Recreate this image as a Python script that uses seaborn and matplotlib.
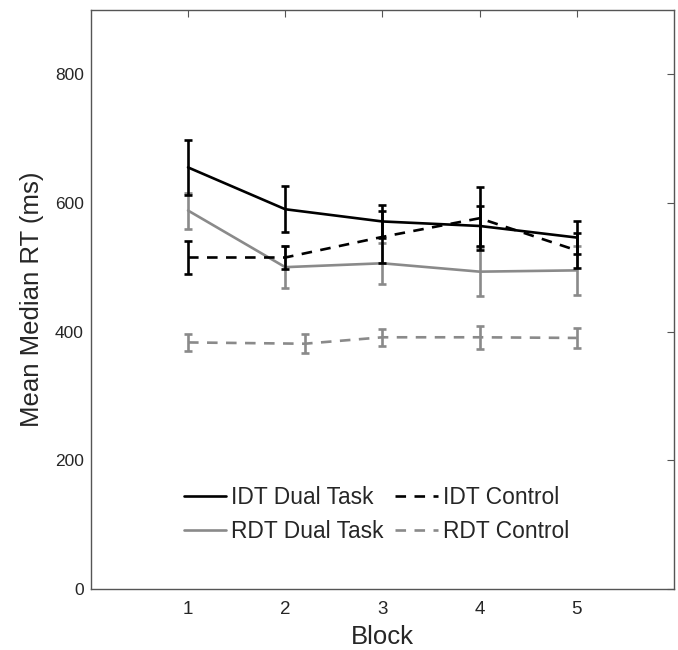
import matplotlib
matplotlib.use("Agg")
import matplotlib.pyplot as plt
import seaborn as sns
import pandas as pd

# Mittelwerte und Fehlerbalken
blocks = [1, 2, 3, 4, 5]
rdt_ctrl_blocks = [1, 2.2, 3, 4, 5]

idt_dual = [655, 590, 571, 564, 546]
idt_dual_err = [43, 36, 25, 31, 26]
idt_ctrl = [515, 515, 547, 576, 526]
idt_ctrl_err = [26, 18, 41, 49, 27]
rdt_dual = [588, 500, 506, 493, 495]
rdt_dual_err = [28, 33, 32, 38, 38]
rdt_ctrl = [383, 381, 391, 391, 390]
rdt_ctrl_err = [13, 15, 13, 18, 15]

labels = ["IDT Dual Task", "RDT Dual Task", "IDT Control", "RDT Control"]

sns.set_style("white")
plt.rcParams["font.family"] = ["Liberation Sans", "DejaVu Sans"]

fig = plt.figure(figsize=(6.78, 6.5), dpi=100)
ax = fig.add_axes([0.134, 0.094, 0.86, 0.891])

grey = "#8a8a8a"
dash = (0, (4, 3.2))
lw = 1.9

series = [
    ("RDT Dual Task", blocks, rdt_dual, rdt_dual_err, grey, "-"),
    ("RDT Control", rdt_ctrl_blocks, rdt_ctrl, rdt_ctrl_err, grey, dash),
    ("IDT Dual Task", blocks, idt_dual, idt_dual_err, "black", "-"),
    ("IDT Control", blocks, idt_ctrl, idt_ctrl_err, "black", dash),
]

handles = {}
for name, xs, ys, errs, col, ls in series:
    df = pd.DataFrame({"Block": xs, "RT": ys})
    sns.lineplot(data=df, x="Block", y="RT", color=col, linestyle=ls,
                 linewidth=lw, errorbar=None, ax=ax, label=name)
    handles[name] = ax.lines[-1]
    ax.errorbar(xs, ys, yerr=errs, fmt="none", ecolor=col, elinewidth=lw,
                capsize=3, capthick=lw)

ax.set_xlim(0, 6)
ax.set_ylim(0, 900)
ax.set_xticks(blocks)
ax.set_yticks([0, 200, 400, 600, 800])
ax.tick_params(direction="in", length=5, width=0.8, top=True, right=True,
               labelsize=12.5, colors="#555555", labelcolor="#262626")
ax.tick_params(axis="x", pad=9, labelsize=13.5)
ax.tick_params(axis="y", pad=5)
for sp in ax.spines.values():
    sp.set_color("#555555")
    sp.set_linewidth(1.0)

ax.set_xlabel("Block", fontsize=18.5, color="#262626", labelpad=5)
ax.set_ylabel("Mean Median RT (ms)", fontsize=18.5, color="#262626", labelpad=8)

leg = ax.legend([handles[l] for l in labels], labels, ncol=2, loc="center",
                bbox_to_anchor=(0.49, 0.128), frameon=False, fontsize=16.4,
                handlelength=1.85, handletextpad=0.22, columnspacing=0.5,
                labelspacing=0.5)

fig.savefig("out.png", dpi=100)
